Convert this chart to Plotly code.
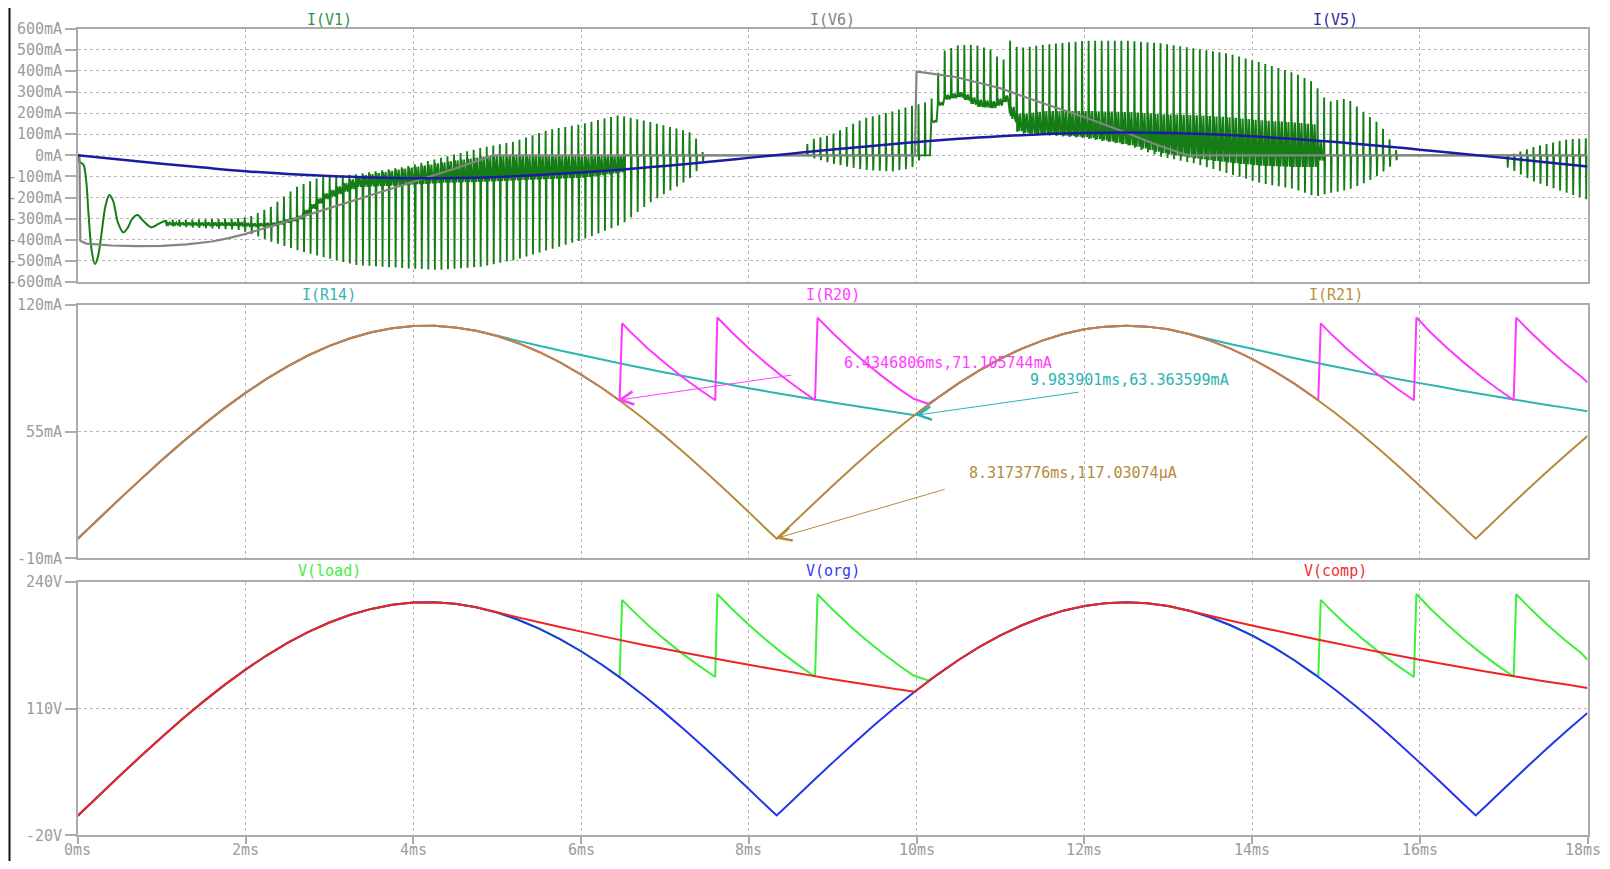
import numpy as np
import plotly.graph_objects as go

# ------------------------------------------------------------------ data
# x axis (time, ms)
x_tick_vals = [0, 2, 4, 6, 8, 10, 12, 14, 16, 18]
x_tick_text = ["0ms", "2ms", "4ms", "6ms", "8ms", "10ms", "12ms", "14ms", "16ms", "18ms"]

# y axes
top_tick_vals = [600, 500, 400, 300, 200, 100, 0, -100, -200, -300, -400, -500, -600]
top_tick_text = ["600mA", "500mA", "400mA", "300mA", "200mA", "100mA", "0mA",
                 "-100mA", "-200mA", "-300mA", "-400mA", "-500mA", "-600mA"]
mid_tick_vals = [120, 55, -10]
mid_tick_text = ["120mA", "55mA", "-10mA"]
bot_tick_vals = [240, 110, -20]
bot_tick_text = ["240V", "110V", "-20V"]

# common time grid for V(org) / I(R21)
t_ms = [0, 0.25, 0.5, 0.75, 1, 1.25, 1.5, 1.75, 2, 2.25, 2.5, 2.75, 3, 3.25, 3.5, 3.75,
        4, 4.25, 4.5, 4.75, 5, 5.25, 5.5, 5.75, 6, 6.25, 6.5, 6.75, 7, 7.25, 7.5, 7.75,
        8, 8.25, 8.333, 8.5, 8.75, 9, 9.25, 9.5, 9.75, 10, 10.25, 10.5, 10.75, 11, 11.25,
        11.5, 11.75, 12, 12.25, 12.5, 12.75, 13, 13.25, 13.5, 13.75, 14, 14.25, 14.5,
        14.75, 15, 15.25, 15.5, 15.75, 16, 16.25, 16.5, 16.667, 16.75, 17, 17.25, 17.5,
        17.75, 18]
v_org = [0.0, 20.6, 41.0, 61.1, 80.6, 99.4, 117.3, 134.2, 149.9, 164.3, 177.2, 188.5,
         198.2, 206.1, 212.1, 216.3, 218.6, 218.9, 217.3, 213.7, 208.3, 201.0, 191.9,
         181.1, 168.7, 154.9, 139.6, 123.1, 105.5, 87.0, 67.7, 47.8, 27.4, 6.9, 0.3,
         13.8, 34.3, 54.5, 74.2, 93.3, 111.5, 128.7, 144.8, 159.7, 173.1, 184.9, 195.1,
         203.6, 210.3, 215.1, 218.0, 219.0, 218.0, 215.1, 210.3, 203.6, 195.1, 184.9,
         173.1, 159.7, 144.8, 128.7, 111.5, 93.3, 74.2, 54.5, 34.3, 13.8, 0.3, 6.9, 27.4,
         47.8, 67.7, 87.0, 105.5]
i_r21 = [0.0, 10.3, 20.5, 30.5, 40.3, 49.7, 58.6, 67.1, 74.9, 82.1, 88.5, 94.2, 99.0,
         102.9, 106.0, 108.1, 109.2, 109.3, 108.5, 106.8, 104.1, 100.4, 95.9, 90.5, 84.3,
         77.4, 69.7, 61.5, 52.7, 43.4, 33.8, 23.9, 13.7, 3.4, 0.1, 6.9, 17.1, 27.2, 37.1,
         46.6, 55.7, 64.3, 72.3, 79.8, 86.4, 92.4, 97.5, 101.7, 105.1, 107.5, 108.9,
         109.4, 108.9, 107.5, 105.1, 101.7, 97.5, 92.4, 86.4, 79.8, 72.3, 64.3, 55.7,
         46.6, 37.1, 27.2, 17.1, 6.9, 0.1, 3.4, 13.7, 23.9, 33.8, 43.4, 52.7]

# V(comp) / I(R14)
t_comp_ms = [0, 0.25, 0.5, 0.75, 1, 1.25, 1.5, 1.75, 2, 2.25, 2.5, 2.75, 3, 3.25, 3.5,
             3.75, 4, 4.25, 4.5, 4.75, 5, 5.25, 5.5, 5.75, 6, 6.25, 6.5, 6.75, 7, 7.25,
             7.5, 7.75, 8, 8.25, 8.5, 8.75, 9, 9.25, 9.5, 9.75, 9.98, 10.25, 10.5, 10.75,
             11, 11.25, 11.5, 11.75, 12, 12.25, 12.5, 12.75, 13, 13.25, 13.5, 13.75, 14,
             14.25, 14.5, 14.75, 15, 15.25, 15.5, 15.75, 16, 16.25, 16.5, 16.75, 17,
             17.25, 17.5, 17.75, 18]
i_r14 = [0.0, 10.3, 20.5, 30.5, 40.3, 49.7, 58.6, 67.1, 74.9, 82.1, 88.5, 94.2, 99.0,
         102.9, 106.0, 108.1, 109.2, 109.3, 108.5, 106.8,
         104.2, 101.6, 99.1, 96.7, 94.3, 92.0, 89.7, 87.5, 85.4, 83.3, 81.3, 79.3, 77.3,
         75.4, 73.6, 71.8, 70.0, 68.3, 66.6, 65.0,
         63.4,
         72.3, 79.8, 86.4, 92.4, 97.5, 101.7, 105.1, 107.5, 108.9, 109.4, 108.9, 107.5,
         105.1,
         102.4, 99.9, 97.5, 95.1, 92.8, 90.5, 88.3, 86.1, 84.0, 81.9, 79.9, 78.0, 76.0,
         74.2, 72.4, 70.6, 68.8, 67.2, 65.5]
v_comp = [0.0, 20.6, 41.0, 61.1, 80.6, 99.4, 117.3, 134.2, 149.9, 164.3, 177.2, 188.5,
          198.2, 206.1, 212.1, 216.3, 218.6, 218.9, 217.3, 213.7,
          208.6, 203.4, 198.4, 193.6, 188.8, 184.2, 179.6, 175.2, 171.0, 166.8, 162.8,
          158.8, 154.8, 151.0, 147.4, 143.7, 140.1, 136.7, 133.4, 130.1,
          127.2,
          144.8, 159.7, 173.1, 184.9, 195.1, 203.6, 210.3, 215.1, 218.0, 219.0, 218.0,
          215.1, 210.3,
          205.0, 200.0, 195.2, 190.4, 185.8, 181.2, 176.8, 172.4, 168.2, 164.0, 160.0,
          156.2, 152.2, 148.5, 144.9, 141.3, 137.7, 134.5, 131.1]

# V(load) / I(R20)
t_load_ms = [0, 0.25, 0.5, 0.75, 1, 1.25, 1.5, 1.75, 2, 2.25, 2.5, 2.75, 3, 3.25, 3.5,
             3.75, 4, 4.25, 4.5, 4.75, 5, 5.25, 5.5, 5.75, 6, 6.25,
             6.46, 6.49, 6.6, 6.8, 7.0, 7.2, 7.4, 7.6, 7.625, 7.8, 8.0, 8.2, 8.4, 8.6,
             8.79, 8.82, 9.0, 9.2, 9.4, 9.6, 9.8, 9.96, 10.05, 10.14,
             10.25, 10.5, 10.75, 11, 11.25, 11.5, 11.75, 12, 12.25, 12.5, 12.75, 13,
             13.25, 13.5, 13.75, 14, 14.25, 14.5, 14.75,
             14.79, 14.82, 14.93, 15.13, 15.33, 15.53, 15.73, 15.93, 15.96, 16.13, 16.33,
             16.53, 16.73, 16.93, 17.12, 17.15, 17.33, 17.53, 17.73, 17.93, 18.0]
i_r20 = [0.0, 10.3, 20.5, 30.5, 40.3, 49.7, 58.6, 67.1, 74.9, 82.1, 88.5, 94.2, 99.0,
         102.9, 106.0, 108.1, 109.2, 109.3, 108.5, 106.8, 104.1, 100.4, 95.9, 90.5, 84.3,
         77.4,
         71.0, 110.6, 105.7, 97.6, 90.2, 83.3, 77.0, 71.1, 113.6, 105.9, 97.8, 90.3,
         83.3, 76.9, 71.2, 113.5, 105.6, 97.5, 90.0, 83.1, 76.7, 72.0, 70.6, 69.3,
         72.3, 79.8, 86.4, 92.4, 97.5, 101.7, 105.1, 107.5, 108.9, 109.4, 108.9, 107.5,
         105.1, 101.7, 97.5, 92.4, 86.4, 79.8, 72.3,
         71.1, 110.6, 105.7, 97.6, 90.2, 83.3, 77.0, 71.1, 113.6, 105.9, 97.8, 90.3,
         83.3, 76.9, 71.2, 113.5, 105.6, 97.5, 90.0, 83.1, 80.3]
v_load = [0.0, 20.6, 41.0, 61.1, 80.6, 99.4, 117.3, 134.2, 149.9, 164.3, 177.2, 188.5,
          198.2, 206.1, 212.1, 216.3, 218.6, 218.9, 217.3, 213.7, 208.3, 201.0, 191.9,
          181.1, 168.7, 154.9,
          142.1, 221.4, 211.6, 195.4, 180.6, 166.8, 154.2, 142.3, 227.4, 212.0, 195.8,
          180.8, 166.8, 154.0, 142.5, 227.2, 211.4, 195.2, 180.2, 166.4, 153.6, 144.1,
          141.3, 138.7,
          144.8, 159.7, 173.1, 184.9, 195.1, 203.6, 210.3, 215.1, 218.0, 219.0, 218.0,
          215.1, 210.3, 203.6, 195.1, 184.9, 173.1, 159.7, 144.8,
          142.3, 221.4, 211.6, 195.4, 180.6, 166.8, 154.2, 142.3, 227.4, 212.0, 195.8,
          180.8, 166.8, 154.0, 142.5, 227.2, 211.4, 195.2, 180.2, 166.4, 160.0]

# I(V5)
t_v5_ms = [0, 0.5, 1, 1.5, 2, 2.5, 3, 3.5, 4, 4.5, 5, 5.5, 6, 6.5, 7, 7.5, 8, 8.5, 9,
           9.5, 10, 10.5, 11, 11.5, 12, 12.5, 13, 13.5, 14, 14.5, 15, 15.5, 16, 16.5,
           17, 17.5, 18]
i_v5 = [0, -20, -40, -58, -75, -88, -98, -105, -108, -107, -102, -93, -81, -67, -50,
        -32, -12, 8, 28, 46, 63, 79, 91, 100, 106, 108, 106, 100, 90, 78, 63, 46, 27, 8,
        -12, -33, -53]

# I(V6)
t_v6_ms = [0, 0.02, 0.03, 0.1, 0.4, 0.7, 1.0, 1.3, 1.6, 1.8, 2.0, 2.5, 3.0, 3.5, 4.0,
           4.5, 4.95, 9.98, 10.0, 10.08, 10.48, 11.0, 11.48, 11.99, 12.47, 12.87, 13.19,
           13.27, 18.0]
i_v6 = [0, 0, -405, -418, -427, -430, -429, -422, -408, -392, -372, -312, -250, -188,
        -125, -62, 0, 0, 396, 393, 370, 318, 250, 183, 112, 49, 6, 0, 0]

# I(V1): start-up ringing
iv1_start_t = [0, 0.02, 0.05, 0.07, 0.1, 0.13, 0.165, 0.205, 0.24, 0.28, 0.33, 0.376,
               0.42, 0.48, 0.543, 0.6, 0.65, 0.714, 0.78, 0.88, 0.96, 1.04, 1.05]
iv1_start = [0, -30, -38, -46, -120, -290, -450, -515, -480, -380, -240, -188, -215,
             -320, -365, -340, -300, -283, -310, -341, -325, -311, -315]

# I(V1): switching envelope (upper / lower spike tips, dense band limits)
iv1_env_t = [1.05, 1.5, 1.9, 2.05, 2.3, 2.6, 2.9, 3.3, 3.9, 4.3, 4.8, 5.2, 5.6, 6.0,
             6.45, 6.5, 6.8, 7.2, 7.34, 7.44, 7.5, 8.65, 8.71, 8.97, 9.17, 9.37, 9.7,
             9.93, 10.0, 10.1, 10.2, 10.3, 10.5, 10.7, 10.9, 11.0, 11.08, 11.12, 11.2,
             11.5, 12.0, 12.5, 12.9, 13.3, 13.7, 14.1, 14.5, 14.75, 14.8, 14.9, 15.13,
             15.37, 15.53, 15.69, 15.75, 16.98, 17.02, 17.36, 17.76, 18.0]
iv1_env_hi = [-305, -303, -298, -290, -243, -150, -101, -90, -54, -14, 35, 65, 120, 148,
              191, 185, 160, 120, 104, 17, 0, 0, 73, 96, 136, 175, 207, 234, 240, 250,
              275, 491, 523, 523, 499, 444, 467, 562, 507, 523, 543, 543, 531, 507, 483,
              440, 390, 341, 300, 254, 270, 191, 144, 41, 0, 0, -6, 41, 76, 81]
iv1_env_lo = [-335, -345, -352, -370, -409, -448, -480, -519, -535, -543, -527, -496,
              -448, -401, -330, -320, -227, -132, -93, -30, 0, 0, -6, -38, -54, -69, -77,
              -61, -30, 0, 207, 262, 278, 231, 223, 246, 262, 167, 104, 96, 81, 49, -6,
              -38, -85, -132, -160, -196, -190, -180, -164, -125, -85, -38, 0, 0, -54,
              -125, -180, -211]
iv1_band_lo = [-328, -332, -334, -336, -334, -305, -210, -150, -140, -130, -125, -118,
               -112, -105, -80, 0, 0, 0, 0, 0, 0, 0, 0, 0, 0, 0, 0, 0, 0, 0, 207, 262,
               278, 231, 223, 246, 262, 150, 110, 100, 85, 50, 10, -15, -35, -50, -55,
               -55, 0, 0, 0, 0, 0, 0, 0, 0, 0, 0, 0, 0]
iv1_band_hi = [-318, -318, -316, -322, -318, -290, -185, -100, -60, -35, -5, 0, 0, -5,
               0, 0, 0, 0, 0, 0, 0, 0, 0, 0, 0, 0, 0, 0, 0, 0, 215, 285, 300, 265, 255,
               280, 290, 215, 195, 210, 210, 205, 195, 190, 180, 165, 155, 145, 0, 0, 0,
               0, 0, 0, 0, 0, 0, 0, 0, 0]
iv1_spike_period_ms = 0.078

# cursor read-outs
cursors = [
    dict(t=6.4346806, v=71.105744, label="6.4346806ms,71.105744mA", color="#ff3cff"),
    dict(t=9.983901, v=63.363599, label="9.983901ms,63.363599mA", color="#2ab3b3"),
    dict(t=8.3173776, v=0.11703074, label="8.3173776ms,117.03074\u00b5A", color="#b38b3c"),
]

# ------------------------------------------------------------------ build I(V1) spike train
env_t = np.array(iv1_env_t, float)
frac = [0.0, 0.05, 0.12, 0.2, 0.4, 0.6, 0.8]
sx, sy = [], []
for t0 in np.arange(env_t[0], 18.0 + 1e-9, iv1_spike_period_ms):
    hi = np.interp(t0, env_t, iv1_env_hi)
    lo = np.interp(t0, env_t, iv1_env_lo)
    bl = np.interp(t0, env_t, iv1_band_lo)
    bh = np.interp(t0, env_t, iv1_band_hi)
    vals = [(bl + bh) / 2, hi, lo, bh, bl, bh, bl]
    for f, v in zip(frac, vals):
        tt = t0 + f * iv1_spike_period_ms
        if tt <= 18.0:
            sx.append(tt)
            sy.append(v)

# ------------------------------------------------------------------ figure
# page is 1610x869; the html body keeps an 8px margin, so the figure is 16px smaller
OFF = 8.0
W, H = 1594, 853


def px(x):
    return (x - OFF) / W


def py(y):
    return 1 - (y - OFF) / H


X0, X1 = px(77.8), px(1587.5)
DOM_TOP = [py(282.0), py(28.7)]
DOM_MID = [py(558.3), py(305.0)]
DOM_BOT = [py(835.3), py(581.7)]

MONO = "DejaVu Sans Mono"
TICK_FONT = dict(family=MONO, size=15, color="#9c9c9c")
GRID = "#b8b8b8"
FRAME = "#ababab"

fig = go.Figure()


def add(x, y, ax, color, width=2.0, shape="linear"):
    fig.add_trace(go.Scatter(x=x, y=y, xaxis="x" + ax, yaxis="y" + ax, mode="lines",
                             line=dict(color=color, width=width, shape=shape,
                                       simplify=False),
                             showlegend=False, hoverinfo="skip"))


# top panel: I(V1), I(V6), I(V5)
add(iv1_start_t, iv1_start, "", "#167d16", 2.0, "spline")
add(sx, sy, "", "#167d16", 1.9)
add(t_v6_ms, i_v6, "", "#858585", 2.2)
add(t_v5_ms, i_v5, "", "#1c1ca3", 2.5, "spline")

# middle panel: I(R14), I(R20), I(R21)
add(t_comp_ms, i_r14, "2", "#2cb3b3", 2.0)
add(t_load_ms, i_r20, "2", "#ff38ff", 2.0)
add(t_ms, i_r21, "2", "#b38b3c", 2.0)

# bottom panel: V(load), V(org), V(comp)
add(t_load_ms, v_load, "3", "#3cf03c", 2.0)
add(t_ms, v_org, "3", "#2434ea", 2.0)
add(t_comp_ms, v_comp, "3", "#f02424", 2.0)


def xaxis(anchor, ticks):
    return dict(domain=[X0, X1], range=[0, 18], anchor=anchor, tickmode="array",
                tickvals=x_tick_vals, ticktext=x_tick_text, showticklabels=False,
                ticks="outside" if ticks else "", ticklen=7, tickwidth=1.5,
                tickcolor=FRAME, tickfont=TICK_FONT, showgrid=True, gridcolor=GRID,
                griddash="dot", gridwidth=1, showline=True, linecolor=FRAME,
                linewidth=1.5, mirror=True, zeroline=False, fixedrange=True,
                automargin=False)


def yaxis(anchor, dom, rng, vals, text):
    return dict(domain=dom, range=rng, anchor=anchor, tickmode="array", tickvals=vals,
                ticktext=text, ticks="outside", ticklen=11, tickwidth=1.5,
                tickcolor=FRAME, tickfont=TICK_FONT, showgrid=True, gridcolor=GRID,
                griddash="dot", gridwidth=1, showline=True, linecolor=FRAME,
                linewidth=1.5, mirror=True, zeroline=False, fixedrange=True,
                automargin=False)


annotations = []

# time-axis labels (kept fully inside the figure so that none is clipped)
for v, txt in zip(x_tick_vals, x_tick_text):
    last = v == x_tick_vals[-1]
    annotations.append(dict(text=txt, xref="x3", yref="paper",
                            x=v, xshift=15 if last else 0, y=0, yshift=0,
                            xanchor="right" if last else "center", yanchor="bottom",
                            showarrow=False, font=TICK_FONT))

titles = [
    ("I(V1)", "#2e9448", 1 / 6, 20), ("I(V6)", "#808080", 0.5, 20),
    ("I(V5)", "#2a2aa8", 5 / 6, 20),
    ("I(R14)", "#33b5b5", 1 / 6, 295), ("I(R20)", "#ff40ff", 0.5, 295),
    ("I(R21)", "#b8913f", 5 / 6, 295),
    ("V(load)", "#44ee44", 1 / 6, 571), ("V(org)", "#3040ee", 0.5, 571),
    ("V(comp)", "#f03030", 5 / 6, 571),
]
for txt, col, fx, ypix in titles:
    annotations.append(dict(text=txt, xref="paper", yref="paper", x=X0 + fx * (X1 - X0),
                            y=py(ypix), xanchor="center", yanchor="middle",
                            showarrow=False, font=dict(family=MONO, size=15, color=col)))

# cursor arrows (tail position / label position in axis units)
arrow_tails = [(8.526, 84.1), (11.953, 75.4), (10.354, 25.6)]
label_pos = [(9.110, 90.4), (11.324, 81.5), (10.601, 33.9)]
for c, (tx, ty), (lx, ly) in zip(cursors, arrow_tails, label_pos):
    annotations.append(dict(x=c["t"], y=c["v"], xref="x2", yref="y2", ax=tx, ay=ty,
                            axref="x2", ayref="y2", text=" ", showarrow=True,
                            arrowhead=5, arrowsize=2.6, arrowwidth=1,
                            arrowcolor=c["color"], font=dict(size=1)))
    annotations.append(dict(x=lx, y=ly, xref="x2", yref="y2", text=c["label"],
                            showarrow=False, xanchor="left", yanchor="middle",
                            font=dict(family=MONO, size=15, color=c["color"])))

shapes = [
    dict(type="line", xref="paper", yref="paper", x0=px(9.5), x1=px(9.5),
         y0=0, y1=1, line=dict(color="#111111", width=2)),
]

fig.update_layout(
    width=W, height=H, margin=dict(l=0, r=0, t=0, b=0, pad=0, autoexpand=False),
    paper_bgcolor="white", plot_bgcolor="white", showlegend=False,
    xaxis=xaxis("y", False), yaxis=yaxis("x", DOM_TOP, [-600, 600], top_tick_vals,
                                            top_tick_text),
    xaxis2=xaxis("y2", False), yaxis2=yaxis("x2", DOM_MID, [-10, 120], mid_tick_vals,
                                              mid_tick_text),
    xaxis3=xaxis("y3", True), yaxis3=yaxis("x3", DOM_BOT, [-20, 240], bot_tick_vals,
                                             bot_tick_text),
    annotations=annotations, shapes=shapes,
)

fig.write_html("out.html", config={"displayModeBar": False})
